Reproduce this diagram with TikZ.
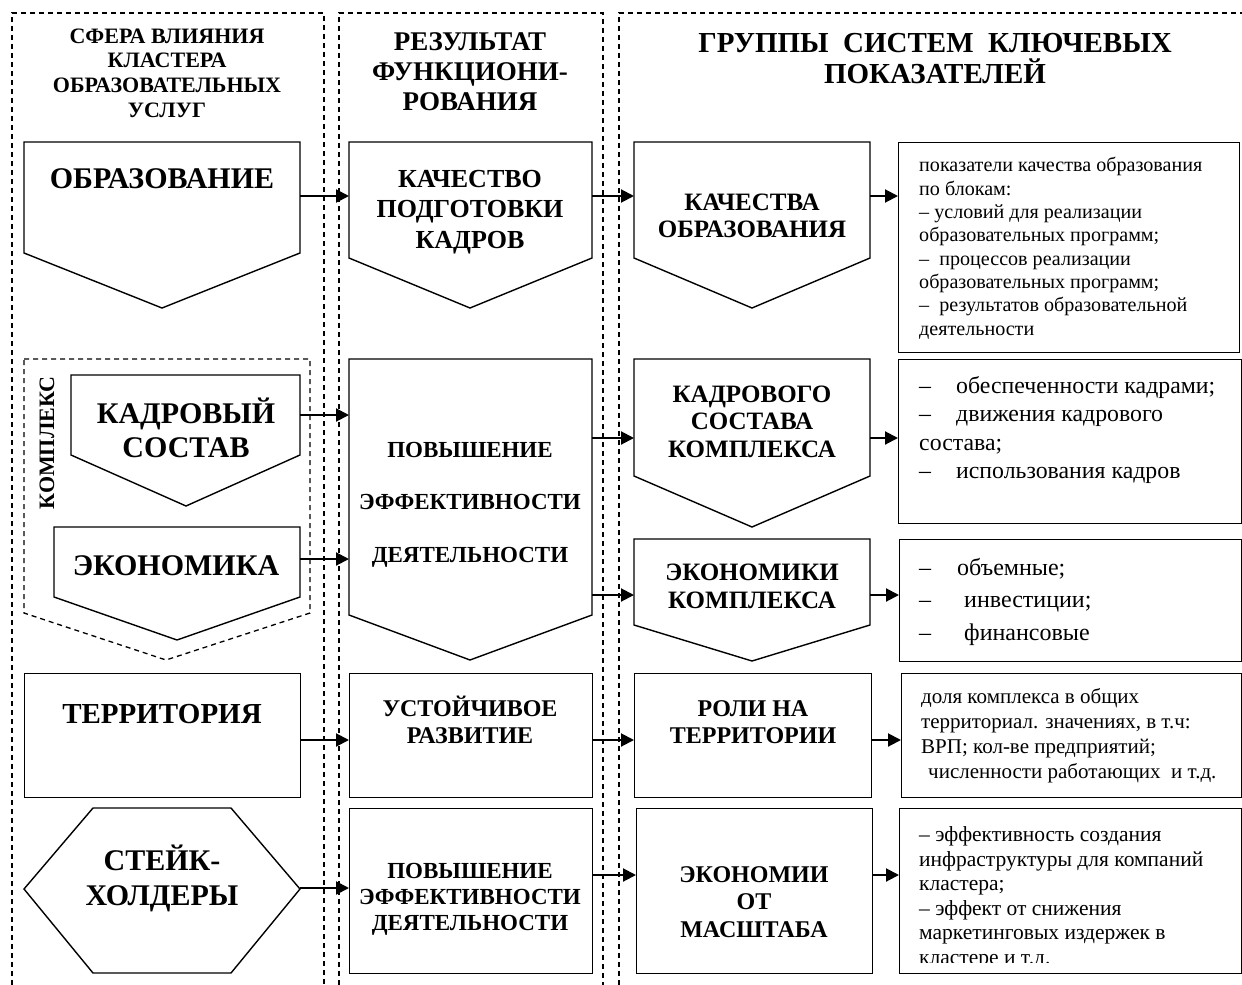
\documentclass[tikz,border=0pt]{standalone}
\usepackage{fontspec}
\setmainfont{Liberation Serif}
\usetikzlibrary{arrows.meta}
\newcommand\myfs[2]{\fontsize{#1}{#2}\selectfont}
\begin{document}
\begin{tikzpicture}[x=1pt,y=-1pt,
  shp/.style={draw,line width=1.4pt},
  boxn/.style={draw,line width=1.4pt,inner sep=0pt,anchor=north west},
  dsh/.style={line width=1.3pt,dash pattern=on 5pt off 4pt},
  conn/.style={line width=2pt,-{Triangle[length=13pt,width=13pt]}},
  ttl/.style={align=center,anchor=base,inner sep=0pt},
  txt/.style={align=left,anchor=base west,inner sep=0pt}]
\useasboundingbox (0,0) rectangle (1242,985);
% dashed columns
\draw[dsh] (12,985) -- (12,13) -- (324,13) -- (324,985);
\draw[dsh] (339,985) -- (339,13) -- (603,13) -- (603,985);
\draw[dsh] (619,985) -- (619,13) -- (1242,13);
% headers (anchor = baseline of last line)
\node[ttl,font=\bfseries\myfs{22}{24.6}] (h1) at (167,117) {СФЕРА ВЛИЯНИЯ\\КЛАСТЕРА\\ОБРАЗОВАТЕЛЬНЫХ\\УСЛУГ};
\node[ttl,font=\bfseries\myfs{27}{30}] (h2) at (470,110) {РЕЗУЛЬТАТ\\ФУНКЦИОНИ-\\РОВАНИЯ};
\node[ttl,font=\bfseries\myfs{29}{31}] (h3) at (935,83) {ГРУППЫ\ \ СИСТЕМ\ \ КЛЮЧЕВЫХ\\ПОКАЗАТЕЛЕЙ};
% complex dashed region
\draw[dsh] (24,359) -- (310,359) -- (310,613) -- (166,660) -- (24,613) -- cycle;
\node[rotate=90,font=\bfseries\myfs{22}{24},inner sep=0pt] (kompl) at (47,443) {КОМПЛЕКС};
% row 1
\draw[shp] (24,142) -- (300,142) -- (300,253) -- (162,308) -- (24,253) -- cycle;
\node[ttl,font=\bfseries\myfs{30}{34}] (obr) at (162,188) {ОБРАЗОВАНИЕ};
\draw[shp] (349,142) -- (592,142) -- (592,258) -- (470,308) -- (349,258) -- cycle;
\node[ttl,font=\bfseries\myfs{26}{30.5}] (kach) at (470,248) {КАЧЕСТВО\\ПОДГОТОВКИ\\КАДРОВ};
\draw[shp] (634,142) -- (870,142) -- (870,258) -- (752,308) -- (634,258) -- cycle;
\node[ttl,font=\bfseries\myfs{25}{27}] (kobr) at (752,237) {КАЧЕСТВА\\ОБРАЗОВАНИЯ};
\node[boxn,minimum width=341pt,minimum height=210pt] (b1) at (898,142) {};
\node[txt,font=\myfs{20.1}{23.3}] (t1) at (919,335) {показатели качества образования\\по блокам:\\–\ условий для реализации\\образовательных программ;\\–\ \ процессов реализации\\образовательных программ;\\–\ \ результатов образовательной\\деятельности};
% row 2
\draw[shp] (71,375) -- (300,375) -- (300,455) -- (186,506) -- (71,455) -- cycle;
\node[ttl,font=\bfseries\myfs{30}{34}] (kadr) at (186,457) {КАДРОВЫЙ\\СОСТАВ};
\draw[shp] (54,527) -- (300,527) -- (300,597) -- (177,640) -- (54,597) -- cycle;
\node[ttl,font=\bfseries\myfs{30}{34}] (ekon) at (176,575) {ЭКОНОМИКА};
\draw[shp] (349,359) -- (592,359) -- (592,615) -- (470,660) -- (349,615) -- cycle;
\node[ttl,font=\bfseries\myfs{23}{52.5}] (pov1) at (470,562) {ПОВЫШЕНИЕ\\ЭФФЕКТИВНОСТИ\\ДЕЯТЕЛЬНОСТИ};
\draw[shp] (634,359) -- (870,359) -- (870,476) -- (752,527) -- (634,476) -- cycle;
\node[ttl,font=\bfseries\myfs{25}{27.5}] (kkomp) at (752,457) {КАДРОВОГО\\СОСТАВА\\КОМПЛЕКСА};
\node[boxn,minimum width=343pt,minimum height=164pt] (b2) at (898,359) {};
\node[txt,font=\myfs{23.8}{28.5}] (t2) at (919,478.5) {\makebox[37pt][l]{–}обеспеченности кадрами;\\\makebox[37pt][l]{–}движения кадрового\\состава;\\\makebox[37pt][l]{–}использования кадров};
\draw[shp] (634,539) -- (870,539) -- (870,625) -- (752,661) -- (634,625) -- cycle;
\node[ttl,font=\bfseries\myfs{25}{28}] (ekomp) at (752,608) {ЭКОНОМИКИ\\КОМПЛЕКСА};
\node[boxn,minimum width=342pt,minimum height=122pt] (b3) at (899,539) {};
\node[txt,font=\myfs{24}{32.5}] (t3) at (919,640) {\makebox[38pt][l]{–}объемные;\\\makebox[45pt][l]{–}инвестиции;\\\makebox[45pt][l]{–}финансовые};
% row 3
\node[boxn,minimum width=276pt,minimum height=124pt] (terrb) at (24,673) {};
\node[ttl,font=\bfseries\myfs{29}{34}] (terr) at (162,723) {ТЕРРИТОРИЯ};
\node[boxn,minimum width=243pt,minimum height=124pt] (ustb) at (349,673) {};
\node[ttl,font=\bfseries\myfs{24}{27}] (ust) at (470,743) {УСТОЙЧИВОЕ\\РАЗВИТИЕ};
\node[boxn,minimum width=237pt,minimum height=124pt] (rolb) at (634,673) {};
\node[ttl,font=\bfseries\myfs{24}{27}] (rol) at (753,743) {РОЛИ НА\\ТЕРРИТОРИИ};
\node[boxn,minimum width=340pt,minimum height=124pt] (b4) at (901,673) {};
\node[txt,font=\myfs{21}{25}] (t4) at (921,778) {доля комплекса в общих\\территориал. значениях, в т.ч:\\ВРП; кол-ве предприятий;\\\hspace*{7pt}численности работающих\ \ и т.д.};
% row 4
\draw[shp] (24,889) -- (93,808) -- (231,808) -- (300,889) -- (231,973) -- (93,973) -- cycle;
\node[ttl,font=\bfseries\myfs{30}{35}] (stake) at (162,905) {СТЕЙК-\\ХОЛДЕРЫ};
\node[boxn,minimum width=243pt,minimum height=165pt] (pov2b) at (349,808) {};
\node[ttl,font=\bfseries\myfs{23}{26}] (pov2) at (470,930) {ПОВЫШЕНИЕ\\ЭФФЕКТИВНОСТИ\\ДЕЯТЕЛЬНОСТИ};
\node[boxn,minimum width=236pt,minimum height=165pt] (masb) at (636,808) {};
\node[ttl,font=\bfseries\myfs{24}{27.5}] (mas) at (754,937) {ЭКОНОМИИ\\ОТ\\МАСШТАБА};
\node[boxn,minimum width=342pt,minimum height=165pt] (b5) at (899,808) {};
\begin{scope}
\clip (899,808) rectangle (1241,962);
\node[txt,font=\myfs{21.5}{24.5}] (t5) at (919,964) {–\ эффективность создания\\инфраструктуры для компаний\\кластера;\\–\ эффект от снижения\\маркетинговых издержек в\\кластере и т.д.};
\end{scope}
% connector end points
\coordinate (c1a) at (300,196); \coordinate (c1b) at (349,196);
\coordinate (c1c) at (592,196); \coordinate (c1d) at (634,196);
\coordinate (c1e) at (870,196); \coordinate (c1f) at (898,196);
\coordinate (c2a) at (300,415); \coordinate (c2b) at (349,415);
\coordinate (c3a) at (300,559); \coordinate (c3b) at (349,559);
\coordinate (c4a) at (592,438); \coordinate (c4b) at (634,438);
\coordinate (c4c) at (870,438); \coordinate (c4d) at (898,438);
\coordinate (c5a) at (592,595); \coordinate (c5b) at (634,595);
\coordinate (c5c) at (870,595); \coordinate (c5d) at (899,595);
\coordinate (c6a) at (300,740); \coordinate (c6b) at (349,740);
\coordinate (c6c) at (592,740); \coordinate (c6d) at (634,740);
\coordinate (c6e) at (871,740); \coordinate (c6f) at (901,740);
\coordinate (c7a) at (300,888); \coordinate (c7b) at (349,888);
\coordinate (c7c) at (592,875); \coordinate (c7d) at (636,875);
\coordinate (c7e) at (872,875); \coordinate (c7f) at (899,875);
\foreach \s/\e in {c1a/c1b,c1c/c1d,c1e/c1f,c2a/c2b,c3a/c3b,c4a/c4b,c4c/c4d,c5a/c5b,c5c/c5d,c6a/c6b,c6c/c6d,c6e/c6f,c7a/c7b,c7c/c7d,c7e/c7f}
  \draw[conn] (\s) -- (\e);
\end{tikzpicture}
\end{document}
